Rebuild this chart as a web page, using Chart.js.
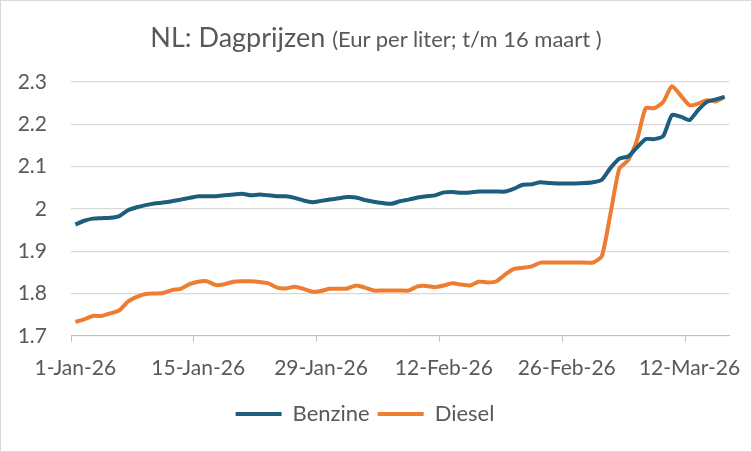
<!doctype html>
<html>

<head>
  <title>NL: Dagprijzen</title>
  <script src="https://cdn.jsdelivr.net/npm/chart.js@4/dist/chart.umd.min.js"></script>
</head>
<style>
  body {
    margin: 0;
    font-family: Lato, sans-serif;
  }

  .chartBox {
    position: relative;
    width: 750px;
    height: 450px;
    border: 1px solid #d9d9d9;
    background: #ffffff;
  }

  .chartTitle {
    position: absolute;
    top: 19px;
    left: 0;
    width: 100%;
    text-align: center;
    color: #595959;
    font-size: 27px;
    white-space: nowrap;
  }

  .chartTitle span {
    font-size: 22px;
  }
</style>

<body>
  <div class="chartBox">
    <div class="chartTitle">NL: Dagprijzen <span>(Eur per liter; t/m 16 maart )</span></div>
    <canvas id="priceChartId" width="750" height="450"></canvas>
  </div>
  <script>
    // daily prices 1 Jan 2026 .. 16 Mar 2026
    var benzine = [
      1.963, 1.972, 1.977, 1.978, 1.979, 1.983, 1.997, 2.004, 2.009, 2.013,
      2.015, 2.018, 2.022, 2.026, 2.030, 2.030, 2.030, 2.032, 2.034, 2.036,
      2.032, 2.034, 2.032, 2.030, 2.030, 2.026, 2.020, 2.016, 2.019, 2.022,
      2.025, 2.028, 2.027, 2.021, 2.017, 2.014, 2.012, 2.018, 2.022, 2.027,
      2.030, 2.032, 2.039, 2.040, 2.038, 2.039, 2.041, 2.041, 2.041, 2.041,
      2.048, 2.057, 2.058, 2.063, 2.061, 2.060, 2.060, 2.060, 2.061, 2.063,
      2.069, 2.097, 2.119, 2.124, 2.145, 2.165, 2.165, 2.172, 2.222, 2.218,
      2.210, 2.234, 2.253, 2.259, 2.265
    ];
    var diesel = [
      1.733, 1.739, 1.747, 1.747, 1.753, 1.760, 1.781, 1.792, 1.799, 1.800,
      1.801, 1.808, 1.811, 1.822, 1.828, 1.829, 1.820, 1.822, 1.828, 1.829,
      1.829, 1.827, 1.824, 1.814, 1.812, 1.816, 1.811, 1.804, 1.806, 1.811,
      1.811, 1.812, 1.819, 1.814, 1.807, 1.807, 1.807, 1.807, 1.807, 1.817,
      1.818, 1.815, 1.819, 1.824, 1.821, 1.819, 1.828, 1.826, 1.829, 1.845,
      1.858, 1.861, 1.864, 1.873, 1.873, 1.873, 1.873, 1.873, 1.873, 1.873,
      1.888, 1.990, 2.095, 2.115, 2.162, 2.238, 2.238, 2.253, 2.290, 2.268,
      2.245, 2.249, 2.257, 2.254, 2.265
    ];
    var tickLabels = ["1-Jan-26", "15-Jan-26", "29-Jan-26", "12-Feb-26", "26-Feb-26", "12-Mar-26"];
    var tickEvery = 14;

    var months = ["Jan", "Feb", "Mar"];
    var days = [];
    for (var i = 0; i < benzine.length; i++) {
      var d = new Date(2026, 0, 1 + i);
      days.push(d.getDate() + "-" + months[d.getMonth()] + "-26");
    }

    var textColor = "#595959";
    var ctx = document.getElementById("priceChartId").getContext('2d');
    var myChart = new Chart(ctx, {
      type: 'line',
      data: {
        labels: days,
        datasets: [{
          label: 'Benzine',
          borderColor: "#1d5e7e",
          backgroundColor: "#1d5e7e",
          borderWidth: 4,
          pointRadius: 0,
          tension: 0.2,
          fill: false,
          data: benzine
        }, {
          label: 'Diesel',
          borderColor: "#ed7d31",
          backgroundColor: "#ed7d31",
          borderWidth: 4,
          pointRadius: 0,
          tension: 0.2,
          fill: false,
          data: diesel
        }]
      },
      options: {
        responsive: false,
        animation: false,
        layout: {
          padding: { top: 81, right: 22, left: 0, bottom: 16 }
        },
        plugins: {
          title: { display: false },
          tooltip: { enabled: false },
          legend: {
            position: 'bottom',
            labels: {
              usePointStyle: true,
              pointStyle: 'line',
              pointStyleWidth: 46,
              boxHeight: 8,
              padding: 8,
              color: textColor,
              font: { family: 'Lato', size: 22 }
            }
          }
        },
        scales: {
          x: {
            offset: true,
            border: { display: true, color: '#bfbfbf', width: 1 },
            grid: {
              offset: true,
              drawOnChartArea: false,
              drawTicks: true,
              tickLength: 6,
              color: function (c) {
                return c.index % tickEvery === 0 ? '#bfbfbf' : 'rgba(0,0,0,0)';
              }
            },
            ticks: {
              autoSkip: false,
              maxRotation: 0,
              padding: 14,
              color: textColor,
              font: { family: 'Lato', size: 21 },
              callback: function (v, index) {
                return index % tickEvery === 0 ? tickLabels[index / tickEvery] : '';
              }
            }
          },
          y: {
            min: 1.7,
            max: 2.3,
            border: { display: false },
            grid: { color: '#d9d9d9', lineWidth: 1.3, drawTicks: false },
            ticks: {
              stepSize: 0.1,
              padding: 24,
              color: textColor,
              font: { family: 'Lato', size: 21 },
              callback: function (v) {
                return +v.toFixed(1);
              }
            },
            afterFit: function (scale) {
              scale.width = 70;
            }
          }
        }
      }
    });
  </script>
</body>

</html>
